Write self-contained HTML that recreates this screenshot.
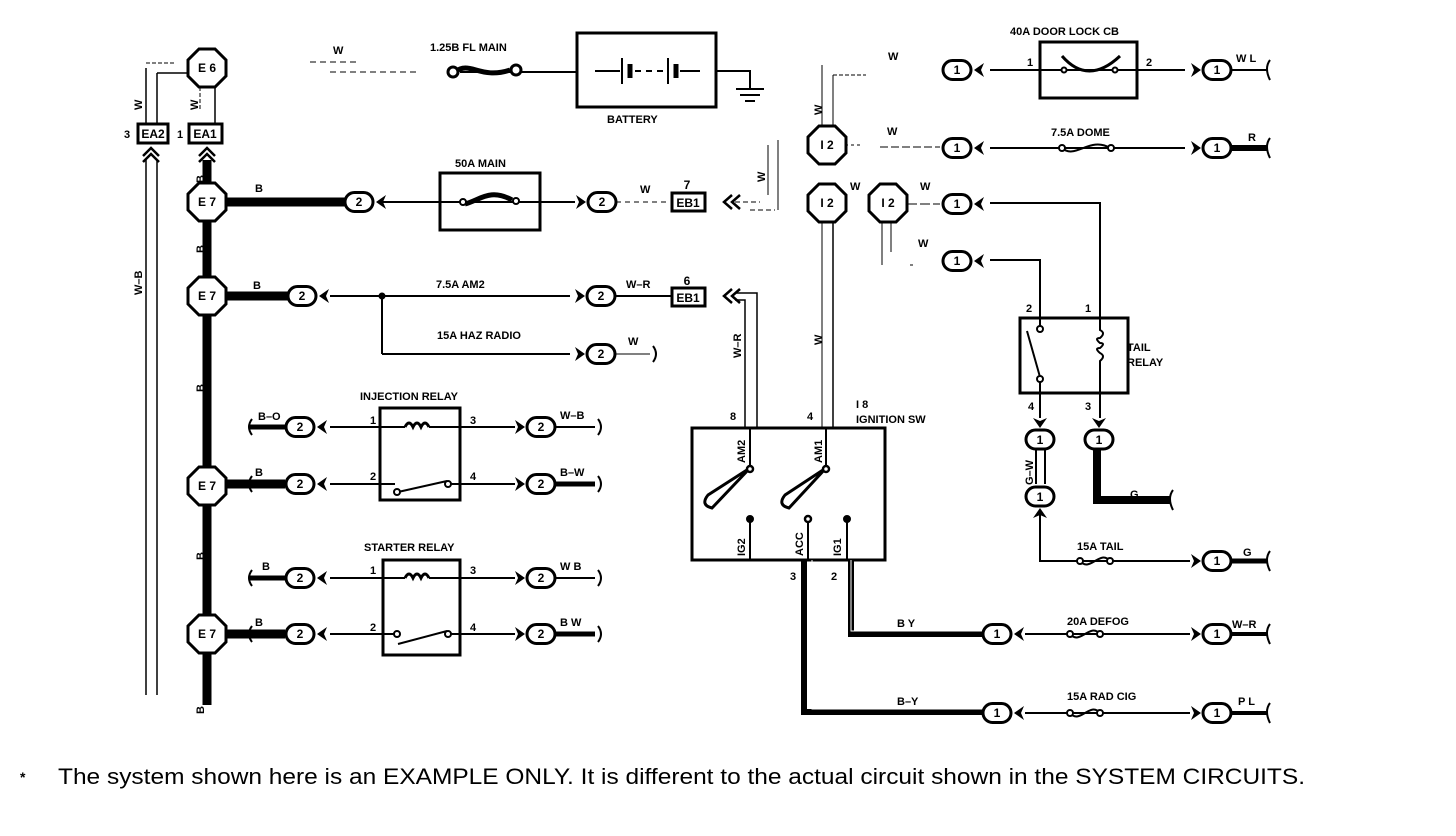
<!DOCTYPE html>
<html><head><meta charset="utf-8"><style>
html,body{margin:0;padding:0;background:#fff;}
svg{display:block;font-family:"Liberation Sans",sans-serif;font-weight:bold;}
text{font-size:11px;fill:#000;}
.n{font-size:12px;text-anchor:middle;}
</style></head><body>
<svg width="1456" height="836" viewBox="0 0 1456 836" xmlns="http://www.w3.org/2000/svg">
<defs>
<g id="oct"><polygon points="-8,-19 8,-19 19,-8 19,8 8,19 -8,19 -19,8 -19,-8" fill="#fff" stroke="#000" stroke-width="3"/></g>
<g id="ov"><rect x="-14" y="-9.5" width="28" height="19" rx="9.5" fill="#fff" stroke="#000" stroke-width="3"/></g>
<g id="cl"><polygon points="0,0 10,-7 7,0 10,7" fill="#000"/></g>
<g id="cr"><polygon points="0,0 -10,-7 -7,0 -10,7" fill="#000"/></g>
<g id="cu"><polygon points="0,0 -7,10 0,7 7,10" fill="#000"/></g>
<g id="cd"><polygon points="0,0 -7,-10 0,-7 7,-10" fill="#000"/></g>
</defs>
<g stroke="#000" fill="none" stroke-width="2">
<line x1="207" y1="160" x2="207" y2="705" stroke-width="9"/>
<line x1="146" y1="160" x2="146" y2="695" stroke-width="1.5"/>
<line x1="157" y1="160" x2="157" y2="695" stroke-width="1.5"/>
<line x1="146" y1="68" x2="146" y2="124" stroke-width="1.5"/>
<line x1="146" y1="63" x2="175" y2="63" stroke-width="1" stroke-dasharray="4,2"/>
<line x1="157" y1="124" x2="157" y2="73" stroke-width="1.5"/>
<line x1="157" y1="73" x2="189" y2="73" stroke-width="1.5"/>
<line x1="200" y1="87" x2="200" y2="110" stroke-width="1" stroke-dasharray="4,2"/>
<line x1="215" y1="87" x2="215" y2="124" stroke-width="1.5"/>
<line x1="310" y1="62" x2="360" y2="62" stroke-width="1" stroke-dasharray="6,4"/>
<line x1="330" y1="72" x2="420" y2="72" stroke-width="1" stroke-dasharray="6,4"/>
<line x1="460" y1="72" x2="577" y2="72" stroke-width="2"/>
<path d="M455,72 C470,60 480,80 510,70" stroke-width="5"/>
<circle cx="453" cy="72" r="5" stroke-width="3" fill="#fff"/>
<circle cx="516" cy="70" r="5" stroke-width="3" fill="#fff"/>
<rect x="577" y="33" width="139" height="74" stroke-width="3"/>
<line x1="595" y1="71" x2="620" y2="71"/><line x1="622" y1="58" x2="622" y2="84" stroke-width="2"/>
<line x1="630" y1="64" x2="630" y2="78" stroke-width="5"/>
<line x1="635" y1="71" x2="668" y2="71" stroke-dasharray="6,5"/>
<line x1="668" y1="58" x2="668" y2="84"/><line x1="676" y1="64" x2="676" y2="78" stroke-width="5"/>
<line x1="680" y1="71" x2="700" y2="71"/>
<polyline points="716,71 750,71 750,88"/>
<line x1="736" y1="89" x2="764" y2="89"/><line x1="740" y1="95" x2="760" y2="95"/><line x1="745" y1="101" x2="755" y2="101"/>
<line x1="207" y1="202" x2="345" y2="202" stroke-width="9"/>
<line x1="378" y1="202" x2="440" y2="202"/>
<rect x="440" y="173" width="100" height="57" stroke-width="3"/>
<line x1="440" y1="202" x2="575" y2="202"/>
<path d="M465,204 C480,200 490,188 512,200" stroke-width="5"/>
<circle cx="463" cy="202" r="3" fill="#fff"/><circle cx="516" cy="201" r="3" fill="#fff"/>
<line x1="616" y1="202" x2="670" y2="202" stroke-width="1" stroke-dasharray="5,4"/>
<rect x="672" y="193" width="33" height="18" stroke-width="3"/>
<line x1="735" y1="202" x2="760" y2="202" stroke-width="1" stroke-dasharray="5,3"/>
<line x1="750" y1="210" x2="775" y2="210" stroke-width="1" stroke-dasharray="5,3"/>
<line x1="768" y1="145" x2="768" y2="195" stroke-width="1"/>
<line x1="778" y1="140" x2="778" y2="210" stroke-width="1"/>
<line x1="207" y1="296" x2="288" y2="296" stroke-width="9"/>
<line x1="330" y1="296" x2="570" y2="296"/>
<line x1="382" y1="296" x2="382" y2="354"/><line x1="382" y1="354" x2="570" y2="354"/>
<circle cx="382" cy="296" r="2.5" fill="#000"/>
<line x1="616" y1="296" x2="672" y2="296"/>
<rect x="672" y="288" width="33" height="18" stroke-width="3"/>
<polyline points="735,293 757,293 757,428" stroke-width="1.5"/>
<polyline points="735,300 745,300 745,428" stroke-width="1.5"/>
<line x1="616" y1="354" x2="650" y2="354" stroke-width="1"/>
<rect x="380" y="408" width="80" height="92" stroke-width="3"/>
<line x1="250" y1="427" x2="285" y2="427" stroke-width="5"/>
<line x1="330" y1="427" x2="405" y2="427"/>
<path d="M405,427 q4,-8 8,0 q4,-8 8,0 q4,-8 8,0" stroke-width="3"/>
<line x1="429" y1="427" x2="515" y2="427"/>
<line x1="207" y1="484" x2="285" y2="484" stroke-width="9"/>
<line x1="330" y1="484" x2="395" y2="484"/>
<line x1="398" y1="492" x2="447" y2="481"/>
<line x1="451" y1="484" x2="515" y2="484"/>
<circle cx="397" cy="492" r="3" fill="#fff"/><circle cx="448" cy="484" r="3" fill="#fff"/>
<line x1="556" y1="427" x2="595" y2="427"/>
<line x1="556" y1="484" x2="595" y2="484" stroke-width="5"/>
<rect x="383" y="560" width="77" height="95" stroke-width="3"/>
<line x1="250" y1="578" x2="285" y2="578" stroke-width="5"/>
<line x1="330" y1="578" x2="405" y2="578"/>
<path d="M405,578 q4,-8 8,0 q4,-8 8,0 q4,-8 8,0" stroke-width="3"/>
<line x1="429" y1="578" x2="515" y2="578"/>
<line x1="207" y1="634" x2="285" y2="634" stroke-width="9"/>
<line x1="330" y1="634" x2="395" y2="634"/>
<line x1="398" y1="644" x2="447" y2="631"/>
<line x1="451" y1="634" x2="515" y2="634"/>
<circle cx="397" cy="634" r="3" fill="#fff"/><circle cx="448" cy="634" r="3" fill="#fff"/>
<line x1="556" y1="578" x2="595" y2="578"/>
<line x1="556" y1="634" x2="595" y2="634" stroke-width="5"/>
<rect x="692" y="428" width="193" height="132" stroke-width="3"/>
<line x1="750" y1="428" x2="750" y2="468"/>
<line x1="826" y1="428" x2="826" y2="468"/>
<line x1="822" y1="195" x2="822" y2="428" stroke-width="1"/>
<line x1="833" y1="222" x2="833" y2="428" stroke-width="1.5"/>
<line x1="822" y1="65" x2="822" y2="128" stroke-width="1"/>
<line x1="833" y1="75" x2="833" y2="128" stroke-width="1"/>
<line x1="833" y1="75" x2="866" y2="75" stroke-width="1" stroke-dasharray="4,2"/>
<path d="M750,468 L708,495 Q700,505 712,508 Z" stroke-width="3"/>
<path d="M826,468 L785,495 Q777,505 789,508 Z" stroke-width="3"/>
<circle cx="750" cy="469" r="3" fill="#fff" stroke-width="2.5"/><circle cx="826" cy="469" r="3" fill="#fff" stroke-width="2.5"/>
<line x1="750" y1="520" x2="750" y2="560"/><circle cx="750" cy="519" r="3" fill="#000"/>
<line x1="808" y1="520" x2="808" y2="560"/><circle cx="808" cy="519" r="3" fill="#fff" stroke-width="2.5"/>
<line x1="847" y1="520" x2="847" y2="560"/><circle cx="847" cy="519" r="3" fill="#000"/>
<polyline points="804,560 804,712 985,712" stroke-width="6"/>
<polyline points="812,560 812,709 985,709" stroke-width="1" stroke="#fff"/>
<polyline points="851,560 851,634 985,634" stroke-width="6"/>
<polyline points="851,560 851,631 985,631" stroke-width="1" stroke="#fff"/>
<line x1="1025" y1="634" x2="1190" y2="634"/>
<path d="M1070,634 C1080,646 1090,622 1100,634" /><circle cx="1070" cy="634" r="3" fill="#fff"/><circle cx="1100" cy="634" r="3" fill="#fff"/>
<line x1="1232" y1="634" x2="1268" y2="634" stroke-width="4"/>
<line x1="1025" y1="713" x2="1190" y2="713"/>
<path d="M1070,713 C1080,725 1090,701 1100,713" /><circle cx="1070" cy="713" r="3" fill="#fff"/><circle cx="1100" cy="713" r="3" fill="#fff"/>
<line x1="1232" y1="713" x2="1268" y2="713" stroke-width="4"/>
<line x1="845" y1="145" x2="860" y2="145" stroke-width="1" stroke-dasharray="3,3"/>
<line x1="880" y1="147" x2="940" y2="147" stroke-width="1" stroke-dasharray="8,3"/>
<line x1="907" y1="204" x2="940" y2="204" stroke-width="1" stroke-dasharray="10,3"/>
<line x1="882" y1="222" x2="882" y2="265" stroke-width="1"/>
<line x1="891" y1="222" x2="891" y2="252" stroke-width="1"/>
<line x1="910" y1="265" x2="913" y2="265" stroke-width="1"/>
<line x1="990" y1="70" x2="1185" y2="70"/>
<rect x="1040" y="42" width="97" height="56" stroke-width="3"/>
<path d="M1062,56 Q1088,86 1120,56" stroke-width="3"/>
<circle cx="1064" cy="70" r="2.5" fill="#fff"/><circle cx="1115" cy="70" r="2.5" fill="#fff"/>
<line x1="1230" y1="70" x2="1268" y2="70"/>
<line x1="990" y1="148" x2="1185" y2="148"/>
<path d="M1062,148 C1075,160 1090,136 1110,148"/><circle cx="1062" cy="148" r="3" fill="#fff"/><circle cx="1111" cy="148" r="3" fill="#fff"/>
<line x1="1230" y1="148" x2="1268" y2="148" stroke-width="6"/>
<polyline points="990,203 1100,203 1100,318"/>
<polyline points="990,260 1040,260 1040,318"/>
<rect x="1020" y="318" width="108" height="75" stroke-width="3"/>
<line x1="1040" y1="318" x2="1040" y2="327"/><circle cx="1040" cy="329" r="3" fill="#fff"/>
<line x1="1027" y1="331" x2="1040" y2="377"/><circle cx="1040" cy="379" r="3" fill="#fff"/>
<line x1="1040" y1="382" x2="1040" y2="418"/>
<path d="M1100,318 L1100,330 q6,3 0,8 q-6,0 0,5 q6,0 0,5 q-6,0 0,5 q6,3 0,8 L1100,418"/>
<line x1="1036" y1="450" x2="1036" y2="484" stroke-width="2"/><line x1="1045" y1="450" x2="1045" y2="484" stroke-width="2"/>
<polyline points="1097,450 1097,500 1170,500" stroke-width="8"/>
<polyline points="1040,510 1040,561 1190,561"/>
<path d="M1080,561 C1090,573 1100,549 1110,561"/><circle cx="1080" cy="561" r="3" fill="#fff"/><circle cx="1110" cy="561" r="3" fill="#fff"/>
<line x1="1230" y1="561" x2="1268" y2="561" stroke-width="5"/>
<path d="M252,419 q-6,8 0,16" /><path d="M252,476 q-6,8 0,16"/><path d="M252,570 q-6,8 0,16"/><path d="M252,626 q-6,8 0,16"/>
<path d="M598,419 q6,8 0,16"/><path d="M598,476 q6,8 0,16"/><path d="M598,570 q6,8 0,16"/><path d="M598,626 q6,8 0,16"/>
<path d="M653,346 q6,8 0,16"/>
<path d="M1270,60 q-6,8 0,20"/><path d="M1270,138 q-6,8 0,20"/><path d="M1270,551 q-6,8 0,20"/><path d="M1270,624 q-6,8 0,20"/><path d="M1270,703 q-6,8 0,20"/>
<path d="M1173,490 q-6,8 0,20"/>
</g>
<use href="#oct" x="207" y="68"/><use href="#oct" x="207" y="202"/><use href="#oct" x="207" y="296"/>
<use href="#oct" x="207" y="486"/><use href="#oct" x="207" y="634"/>
<use href="#oct" x="827" y="145"/><use href="#oct" x="827" y="203"/><use href="#oct" x="888" y="203"/>
<text x="207" y="72" class="n">E 6</text><text x="207" y="206" class="n">E 7</text><text x="207" y="300" class="n">E 7</text>
<text x="207" y="490" class="n">E 7</text><text x="207" y="638" class="n">E 7</text>
<text x="827" y="149" class="n">I 2</text><text x="827" y="207" class="n">I 2</text><text x="888" y="207" class="n">I 2</text>
<rect x="138" y="124" width="30" height="19" fill="#fff" stroke="#000" stroke-width="3"/>
<rect x="189" y="124" width="33" height="19" fill="#fff" stroke="#000" stroke-width="3"/>
<text x="153" y="138" class="n">EA2</text><text x="205" y="138" class="n">EA1</text>
<text x="124" y="138">3</text><text x="177" y="138">1</text>
<g fill="none" stroke="#000" stroke-width="2.5"><path d="M143,156 l8,-8 l8,8 M143,162 l8,-8 l8,8"/><path d="M199,156 l8,-8 l8,8 M199,162 l8,-8 l8,8"/>
<path d="M732,195 l-8,7 l8,7 M740,195 l-8,7 l8,7"/><path d="M732,289 l-8,7 l8,7 M740,289 l-8,7 l8,7"/></g>
<text x="687" y="189" class="n">7</text><text x="688" y="302" class="n">EB1</text><text x="688" y="207" class="n">EB1</text><text x="687" y="285" class="n">6</text>
<g>
<use href="#ov" x="359" y="202"/><use href="#cl" x="376" y="202"/>
<use href="#ov" x="602" y="202"/><use href="#cr" x="586" y="202"/>
<use href="#ov" x="302" y="296"/><use href="#cl" x="319" y="296"/>
<use href="#ov" x="601" y="296"/><use href="#cr" x="585" y="296"/>
<use href="#ov" x="601" y="354"/><use href="#cr" x="585" y="354"/>
<use href="#ov" x="300" y="427"/><use href="#cl" x="317" y="427"/>
<use href="#ov" x="300" y="484"/><use href="#cl" x="317" y="484"/>
<use href="#ov" x="541" y="427"/><use href="#cr" x="525" y="427"/>
<use href="#ov" x="541" y="484"/><use href="#cr" x="525" y="484"/>
<use href="#ov" x="300" y="578"/><use href="#cl" x="317" y="578"/>
<use href="#ov" x="300" y="634"/><use href="#cl" x="317" y="634"/>
<use href="#ov" x="541" y="578"/><use href="#cr" x="525" y="578"/>
<use href="#ov" x="541" y="634"/><use href="#cr" x="525" y="634"/>
<use href="#ov" x="957" y="70"/><use href="#cl" x="974" y="70"/>
<use href="#ov" x="957" y="148"/><use href="#cl" x="974" y="148"/>
<use href="#ov" x="957" y="204"/><use href="#cl" x="974" y="204"/>
<use href="#ov" x="957" y="261"/><use href="#cl" x="974" y="261"/>
<use href="#ov" x="1217" y="70"/><use href="#cr" x="1201" y="70"/>
<use href="#ov" x="1217" y="148"/><use href="#cr" x="1201" y="148"/>
<use href="#ov" x="1217" y="561"/><use href="#cr" x="1201" y="561"/>
<use href="#ov" x="1217" y="634"/><use href="#cr" x="1201" y="634"/>
<use href="#ov" x="1217" y="713"/><use href="#cr" x="1201" y="713"/>
<use href="#ov" x="997" y="634"/><use href="#cl" x="1014" y="634"/>
<use href="#ov" x="997" y="713"/><use href="#cl" x="1014" y="713"/>
</g>
<rect x="1026" y="430" width="28" height="19" rx="9.5" fill="#fff" stroke="#000" stroke-width="3"/>
<rect x="1026" y="487" width="28" height="19" rx="9.5" fill="#fff" stroke="#000" stroke-width="3"/>
<rect x="1085" y="430" width="28" height="19" rx="9.5" fill="#fff" stroke="#000" stroke-width="3"/>
<use href="#cd" x="1040" y="428"/><use href="#cd" x="1099" y="428"/><use href="#cu" x="1040" y="508"/>
<g class="n">
<text x="359" y="206" class="n">2</text><text x="602" y="206" class="n">2</text><text x="302" y="300" class="n">2</text>
<text x="601" y="300" class="n">2</text><text x="601" y="358" class="n">2</text><text x="300" y="431" class="n">2</text>
<text x="300" y="488" class="n">2</text><text x="541" y="431" class="n">2</text><text x="541" y="488" class="n">2</text>
<text x="300" y="582" class="n">2</text><text x="300" y="638" class="n">2</text><text x="541" y="582" class="n">2</text><text x="541" y="638" class="n">2</text>
<text x="957" y="74" class="n">1</text><text x="957" y="152" class="n">1</text><text x="957" y="208" class="n">1</text><text x="957" y="265" class="n">1</text>
<text x="1217" y="74" class="n">1</text><text x="1217" y="152" class="n">1</text><text x="1217" y="565" class="n">1</text><text x="1217" y="638" class="n">1</text><text x="1217" y="717" class="n">1</text>
<text x="997" y="638" class="n">1</text><text x="997" y="717" class="n">1</text>
<text x="1040" y="444" class="n">1</text><text x="1040" y="501" class="n">1</text><text x="1099" y="444" class="n">1</text>
</g>
<text x="333" y="54">W</text><text x="430" y="51">1.25B FL MAIN</text><text x="607" y="123">BATTERY</text>
<text x="455" y="167">50A MAIN</text><text x="255" y="192">B</text><text x="640" y="193">W</text>
<text x="436" y="288">7.5A AM2</text><text x="253" y="289">B</text><text x="626" y="288">W–R</text>
<text x="437" y="339">15A HAZ RADIO</text><text x="628" y="345">W</text>
<text x="360" y="400">INJECTION RELAY</text><text x="258" y="420">B–O</text><text x="560" y="419">W–B</text><text x="560" y="476">B–W</text>
<text x="370" y="424">1</text><text x="370" y="480">2</text><text x="470" y="424">3</text><text x="470" y="480">4</text>
<text x="255" y="476">B</text><text x="364" y="551">STARTER RELAY</text><text x="262" y="570">B</text><text x="560" y="570">W B</text>
<text x="370" y="574">1</text><text x="370" y="631">2</text><text x="470" y="574">3</text><text x="470" y="631">4</text>
<text x="255" y="626">B</text><text x="560" y="626">B W</text>
<text x="856" y="408">I 8</text><text x="856" y="423">IGNITION SW</text>
<text x="730" y="420">8</text><text x="807" y="420">4</text><text x="790" y="580">3</text><text x="831" y="580">2</text>
<text x="897" y="627">B Y</text><text x="897" y="705">B–Y</text>
<text x="1067" y="625">20A DEFOG</text><text x="1067" y="700">15A RAD CIG</text><text x="1232" y="628">W–R</text><text x="1238" y="705">P L</text>
<text x="1077" y="550">15A TAIL</text><text x="1243" y="556">G</text><text x="1130" y="498">G</text>
<text x="1028" y="410">4</text><text x="1085" y="410">3</text><text x="1026" y="312">2</text><text x="1085" y="312">1</text>
<text x="1127" y="351">TAIL</text><text x="1127" y="366">RELAY</text>
<text x="1010" y="35">40A DOOR LOCK CB</text><text x="1027" y="66">1</text><text x="1146" y="66">2</text><text x="1236" y="62">W L</text>
<text x="1051" y="136">7.5A DOME</text><text x="1248" y="141">R</text>
<text x="888" y="60">W</text><text x="887" y="135">W</text><text x="850" y="190">W</text><text x="920" y="190">W</text><text x="918" y="247">W</text>
<g font-size="11">
<text transform="translate(142,110) rotate(-90)">W</text>
<text transform="translate(198,110) rotate(-90)">W</text>
<text transform="translate(142,295) rotate(-90)">W–B</text>
<text transform="translate(204,183) rotate(-90)">B</text>
<text transform="translate(204,253) rotate(-90)">B</text>
<text transform="translate(204,392) rotate(-90)">B</text>
<text transform="translate(204,560) rotate(-90)">B</text>
<text transform="translate(204,714) rotate(-90)">B</text>
<text transform="translate(765,182) rotate(-90)">W</text>
<text transform="translate(822,115) rotate(-90)">W</text>
<text transform="translate(822,345) rotate(-90)">W</text>
<text transform="translate(741,358) rotate(-90)">W–R</text>
<text transform="translate(745,463) rotate(-90)">AM2</text>
<text transform="translate(822,463) rotate(-90)">AM1</text>
<text transform="translate(745,556) rotate(-90)">IG2</text>
<text transform="translate(803,556) rotate(-90)">ACC</text>
<text transform="translate(841,556) rotate(-90)">IG1</text>
<text transform="translate(1033,485) rotate(-90)">G–W</text>
</g>
<text x="20" y="782" style="font-size:14px">*</text>
<text x="58" y="784" textLength="1247" lengthAdjust="spacingAndGlyphs" style="font-size:22px;font-weight:normal">The system shown here is an EXAMPLE ONLY. It is different to the actual circuit shown in the SYSTEM CIRCUITS.</text>
</svg>
</body></html>
